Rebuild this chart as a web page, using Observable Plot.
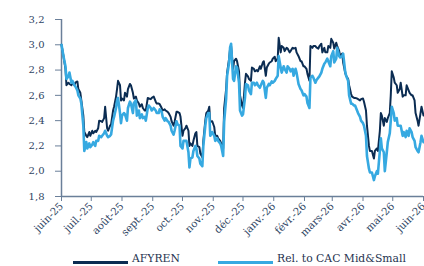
<!DOCTYPE html>
<html><head><meta charset="utf-8">
<script src="https://cdn.jsdelivr.net/npm/d3@7"></script>
<script src="https://cdn.jsdelivr.net/npm/@observablehq/plot@0.6"></script>
<style>
body{margin:0;background:#fff;width:424px;height:266px;overflow:hidden;font-family:"DejaVu Serif",serif}
#legend{position:relative;height:16px;font-size:10.8px;color:#1f3350}
.sw{position:absolute;top:11px;width:55px;height:3px}
.lb{position:absolute;top:3px;line-height:12px;white-space:nowrap}
</style></head><body>
<div id="chart"></div>
<div id="legend"></div>
<script>
const dates = [
"2025-06-01","2025-06-03","2025-06-05","2025-06-06","2025-06-08","2025-06-09","2025-06-11","2025-06-12","2025-06-14","2025-06-15","2025-06-17","2025-06-18","2025-06-20","2025-06-21","2025-06-23","2025-06-24","2025-06-26","2025-06-27","2025-06-29","2025-06-30",
"2025-07-02","2025-07-03","2025-07-05","2025-07-06","2025-07-08","2025-07-09","2025-07-11","2025-07-12","2025-07-14","2025-07-15","2025-07-17","2025-07-18","2025-07-20","2025-07-21","2025-07-23","2025-07-24","2025-07-26","2025-07-27","2025-07-28","2025-07-30","2025-07-31",
"2025-08-01","2025-08-03","2025-08-04","2025-08-06","2025-08-07","2025-08-09","2025-08-10","2025-08-12","2025-08-13","2025-08-15","2025-08-16","2025-08-18","2025-08-19","2025-08-21","2025-08-22","2025-08-24","2025-08-25","2025-08-27","2025-08-28","2025-08-30","2025-08-31",
"2025-09-02","2025-09-04","2025-09-05","2025-09-07","2025-09-08","2025-09-10","2025-09-11","2025-09-13","2025-09-14","2025-09-16","2025-09-17","2025-09-19","2025-09-20","2025-09-22","2025-09-23","2025-09-25","2025-09-26","2025-09-28","2025-09-29",
"2025-10-01","2025-10-02","2025-10-04","2025-10-05","2025-10-07","2025-10-08","2025-10-09","2025-10-11","2025-10-12","2025-10-14","2025-10-15","2025-10-16","2025-10-18","2025-10-19","2025-10-21","2025-10-22","2025-10-24","2025-10-25","2025-10-27","2025-10-28","2025-10-29","2025-10-31",
"2025-11-02","2025-11-03","2025-11-05","2025-11-06","2025-11-08","2025-11-09","2025-11-11","2025-11-12","2025-11-14","2025-11-15","2025-11-17","2025-11-18","2025-11-19","2025-11-21","2025-11-22","2025-11-24","2025-11-25","2025-11-27","2025-11-28","2025-11-30",
"2025-12-01","2025-12-03","2025-12-04","2025-12-06","2025-12-07","2025-12-09","2025-12-10","2025-12-12","2025-12-13","2025-12-15","2025-12-16","2025-12-18","2025-12-19","2025-12-21","2025-12-22","2025-12-24","2025-12-25","2025-12-27","2025-12-28","2025-12-30","2025-12-31",
"2026-01-02","2026-01-03","2026-01-05","2026-01-06","2026-01-08","2026-01-09","2026-01-11","2026-01-12","2026-01-14","2026-01-15","2026-01-17","2026-01-18","2026-01-20","2026-01-21","2026-01-23","2026-01-24","2026-01-26","2026-01-28","2026-01-29","2026-01-31",
"2026-02-01","2026-02-03","2026-02-04","2026-02-06","2026-02-07","2026-02-09","2026-02-10","2026-02-12","2026-02-13","2026-02-15","2026-02-16","2026-02-18","2026-02-19","2026-02-21","2026-02-22","2026-02-24","2026-02-25","2026-02-27","2026-02-28",
"2026-03-02","2026-03-03","2026-03-05","2026-03-06","2026-03-08","2026-03-09","2026-03-11","2026-03-12","2026-03-14","2026-03-15","2026-03-17","2026-03-18","2026-03-20","2026-03-21","2026-03-23","2026-03-24","2026-03-26","2026-03-27","2026-03-29","2026-03-30",
"2026-04-01","2026-04-02","2026-04-04","2026-04-05","2026-04-07","2026-04-08","2026-04-10","2026-04-12","2026-04-13","2026-04-15","2026-04-16","2026-04-18","2026-04-19","2026-04-20","2026-04-22","2026-04-23","2026-04-25","2026-04-26","2026-04-28","2026-04-29","2026-04-30",
"2026-05-02","2026-05-03","2026-05-05","2026-05-06","2026-05-08","2026-05-09","2026-05-11","2026-05-12","2026-05-14","2026-05-15","2026-05-17","2026-05-18","2026-05-20","2026-05-21","2026-05-23","2026-05-24","2026-05-26","2026-05-27","2026-05-29","2026-05-30",
"2026-06-01"
];
const afyren = [
3.00,2.91,2.81,2.68,2.70,2.69,2.68,2.70,2.68,2.70,2.71,2.65,2.62,2.56,2.44,2.31,2.28,2.27,2.31,2.28,
2.32,2.30,2.32,2.31,2.34,2.40,2.395,2.39,2.42,2.51,2.34,2.32,2.36,2.37,2.48,2.51,2.59,2.65,2.715,2.68,2.56,
2.575,2.56,2.62,2.59,2.65,2.69,2.68,2.62,2.575,2.59,2.56,2.535,2.51,2.53,2.50,2.48,2.48,2.58,2.575,2.57,2.58,
2.59,2.55,2.535,2.535,2.53,2.50,2.48,2.49,2.48,2.47,2.46,2.43,2.395,2.36,2.39,2.47,2.47,2.46,2.43,
2.28,2.32,2.34,2.36,2.32,2.20,2.22,2.20,2.24,2.30,2.31,2.20,2.19,2.14,2.11,2.24,2.40,2.46,2.48,2.51,2.39,2.395,
2.35,2.28,2.28,2.26,2.24,2.22,2.18,2.50,2.65,2.78,2.89,2.97,2.99,2.81,2.87,2.89,2.87,2.79,2.60,2.52,
2.50,2.70,2.77,2.75,2.73,2.715,2.82,2.81,2.79,2.80,2.79,2.83,2.81,2.86,2.87,2.755,2.82,2.85,2.86,2.87,2.89,
2.905,2.87,2.89,3.055,2.94,2.99,2.976,2.95,2.976,2.97,2.94,2.95,2.976,2.97,2.976,2.94,2.91,2.87,2.87,2.83,
2.83,2.81,2.77,2.715,2.99,2.976,2.99,2.99,2.98,2.97,2.99,3.008,2.94,2.976,2.94,2.94,2.99,2.976,3.047,
3.016,2.97,3.016,2.99,2.95,2.91,2.93,2.86,2.78,2.755,2.73,2.68,2.61,2.59,2.58,2.58,2.575,2.57,2.56,2.57,
2.575,2.55,2.48,2.36,2.20,2.16,2.16,2.10,2.16,2.18,2.16,2.32,2.46,2.44,2.36,2.42,2.39,2.42,2.46,2.60,2.79,
2.74,2.70,2.68,2.62,2.65,2.70,2.59,2.60,2.60,2.68,2.64,2.62,2.60,2.60,2.56,2.46,2.40,2.36,2.46,2.51,
2.44
];
const relCac = [
3.00,2.91,2.83,2.73,2.75,2.78,2.70,2.715,2.68,2.67,2.64,2.60,2.575,2.535,2.36,2.16,2.23,2.18,2.22,2.19,
2.21,2.23,2.20,2.24,2.24,2.28,2.27,2.28,2.30,2.32,2.28,2.27,2.28,2.29,2.40,2.43,2.50,2.56,2.58,2.46,2.38,
2.44,2.46,2.45,2.40,2.50,2.55,2.535,2.46,2.54,2.56,2.44,2.48,2.42,2.45,2.42,2.43,2.40,2.50,2.52,2.50,2.48,
2.50,2.48,2.46,2.46,2.49,2.47,2.43,2.40,2.42,2.395,2.39,2.36,2.32,2.29,2.32,2.395,2.37,2.36,2.20,
2.18,2.24,2.24,2.24,2.15,2.03,2.10,2.11,2.16,2.20,2.18,2.12,2.10,2.06,2.04,2.20,2.36,2.42,2.46,2.46,2.28,2.31,
2.28,2.24,2.26,2.24,2.22,2.20,2.12,2.39,2.575,2.755,2.86,2.98,3.008,2.73,2.715,2.83,2.82,2.70,2.48,2.44,
2.45,2.58,2.69,2.68,2.64,2.61,2.70,2.70,2.68,2.70,2.68,2.66,2.68,2.715,2.70,2.58,2.66,2.69,2.68,2.71,2.70,
2.715,2.73,2.755,2.91,2.82,2.78,2.83,2.81,2.78,2.83,2.81,2.79,2.81,2.755,2.81,2.78,2.69,2.65,2.64,2.60,
2.61,2.59,2.54,2.50,2.74,2.755,2.74,2.70,2.72,2.74,2.75,2.78,2.81,2.85,2.86,2.89,2.87,2.83,2.91,
2.95,2.86,2.89,2.976,2.91,2.90,2.91,2.93,2.79,2.755,2.715,2.60,2.535,2.535,2.52,2.52,2.48,2.46,2.43,2.40,
2.38,2.36,2.28,2.12,2.02,1.99,1.99,1.93,1.96,2.00,1.98,2.16,2.26,2.18,2.15,2.00,2.15,2.23,2.30,2.40,2.51,
2.46,2.40,2.42,2.36,2.36,2.36,2.28,2.31,2.27,2.32,2.28,2.34,2.31,2.27,2.24,2.19,2.16,2.15,2.23,2.28,
2.23
];
const tickDates = ["2025-06-01","2025-07-01","2025-08-01","2025-09-01","2025-10-01","2025-11-01","2025-12-01","2026-01-01","2026-02-01","2026-03-01","2026-04-01","2026-05-01","2026-06-01"];
const tickLabels = ["juin-25","juil.-25","août-25","sept.-25","oct.-25","nov.-25","déc.-25","janv.-26","févr.-26","mars-26","avr.-26","mai-26","juin-26"];
const yTicks = [1.8,2.0,2.2,2.4,2.6,2.8,3.0,3.2];
const seriesNames = ["AFYREN","Rel. to CAC Mid&Small"];
const seriesColors = ["#0b2c52","#36a9e1"];

const n = Math.min(dates.length, afyren.length, relCac.length);
const rows = [];
for (let i = 0; i < n; i++) rows.push({date: new Date(dates[i] + "T00:00:00Z"), a: afyren[i], r: relCac[i]});
const tDates = tickDates.map(d => new Date(d + "T00:00:00Z"));
const labelMap = new Map(tDates.map((d, i) => [+d, tickLabels[i]]));
const axisColor = "#6a7f99";
const textColor = "#2e4463";

const chart = Plot.plot({
  width: 424,
  height: 250,
  marginLeft: 61,
  marginRight: 1,
  marginTop: 19,
  marginBottom: 54,
  style: {fontFamily: "DejaVu Serif", fontSize: "10px", background: "#fff"},
  x: {type: "utc", domain: [tDates[0], tDates[tDates.length - 1]]},
  y: {domain: [1.8, 3.2]},
  marks: [
    Plot.axisY({ticks: yTicks, tickFormat: d => d.toFixed(1).replace(".", ","), tickSize: 6, tickPadding: 11, stroke: axisColor, fill: textColor, label: null, fontSize: 10}),
    Plot.axisX({ticks: tDates, tickFormat: d => labelMap.get(+d) ?? "", tickRotate: -45, tickSize: 5, tickPadding: 3, stroke: axisColor, fill: textColor, label: null, fontSize: 10.3}),
    Plot.ruleX([tDates[0]], {stroke: axisColor, strokeWidth: 1.5}),
    Plot.ruleY([1.8], {stroke: axisColor, strokeWidth: 1.5}),
    Plot.line(rows, {x: "date", y: "a", stroke: seriesColors[0], strokeWidth: 2}),
    Plot.line(rows, {x: "date", y: "r", stroke: seriesColors[1], strokeWidth: 2.6})
  ]
});
document.getElementById("chart").appendChild(chart);

const legend = document.getElementById("legend");
const lefts = [73, 218];
seriesNames.forEach((name, i) => {
  const sw = document.createElement("div");
  sw.className = "sw";
  sw.style.left = lefts[i] + "px";
  sw.style.background = seriesColors[i];
  legend.appendChild(sw);
  const lb = document.createElement("div");
  lb.className = "lb";
  lb.style.left = (lefts[i] + 59) + "px";
  lb.textContent = name;
  legend.appendChild(lb);
});
</script>
</body></html>
